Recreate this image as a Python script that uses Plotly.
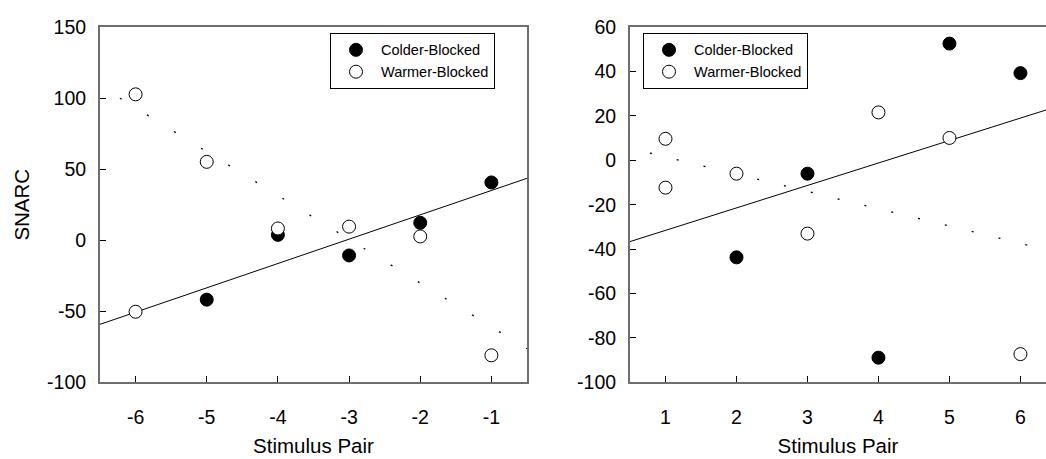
import plotly.graph_objects as go

# ---- data ----
left_colder_x = [-5, -4, -3, -2, -1]
left_colder_y = [-41.8, 3.8, -10.7, 12.3, 40.7]
left_warmer_x = [-6, -6, -5, -4, -3, -2, -1]
left_warmer_y = [102.7, -50.3, 55.2, 8.3, 9.6, 2.7, -81.0]
left_fit_x = [-6.5, -0.5]
left_fit_y = [-59.2, 43.6]
left_dot_x = [-6.22, -0.5]
left_dot_y = [100.0, -76.4]

right_colder_x = [2, 3, 4, 5, 6]
right_colder_y = [-43.7, -6.0, -88.9, 52.6, 39.3]
right_warmer_x = [1, 1, 2, 3, 4, 5, 6]
right_warmer_y = [9.7, -12.3, -6.0, -33.0, 21.6, 10.1, -87.3]
right_fit_x = [0.5, 6.5]
right_fit_y = [-36.6, 24.1]
right_dot_x = [0.78, 6.5]
right_dot_y = [3.3, -41.3]

left_xticks = [-6, -5, -4, -3, -2, -1]
left_xlabels = ["-6", "-5", "-4", "-3", "-2", "-1"]
left_yticks = [-100, -50, 0, 50, 100, 150]
left_ylabels = ["-100", "-50", "0", "50", "100", "150"]
right_xticks = [1, 2, 3, 4, 5, 6]
right_xlabels = ["1", "2", "3", "4", "5", "6"]
right_yticks = [-100, -80, -60, -40, -20, 0, 20, 40, 60]
right_ylabels = ["-100", "-80", "-60", "-40", "-20", "0", "20", "40", "60"]

FONT = "Arial, 'Liberation Sans', sans-serif"
AX = "#6e6e6e"

fig = go.Figure()

# left panel
fig.add_trace(go.Scatter(x=left_fit_x, y=left_fit_y, mode="lines",
                         line=dict(color="black", width=1), showlegend=False,
                         xaxis="x", yaxis="y"))
fig.add_trace(go.Scatter(x=left_dot_x, y=left_dot_y, mode="lines",
                         line=dict(color="black", width=1.3, dash="2px,29.8px"),
                         showlegend=False, xaxis="x", yaxis="y"))
fig.add_trace(go.Scatter(x=left_colder_x, y=left_colder_y, mode="markers",
                         name="Colder-Blocked",
                         marker=dict(symbol="circle", size=13, color="black",
                                     line=dict(color="black", width=1)),
                         xaxis="x", yaxis="y", legend="legend"))
fig.add_trace(go.Scatter(x=left_warmer_x, y=left_warmer_y, mode="markers",
                         name="Warmer-Blocked",
                         marker=dict(symbol="circle", size=13, color="white",
                                     line=dict(color="black", width=1)),
                         xaxis="x", yaxis="y", legend="legend"))

# right panel
fig.add_trace(go.Scatter(x=right_fit_x, y=right_fit_y, mode="lines",
                         line=dict(color="black", width=1), showlegend=False,
                         xaxis="x2", yaxis="y2"))
fig.add_trace(go.Scatter(x=right_dot_x, y=right_dot_y, mode="lines",
                         line=dict(color="black", width=1.3, dash="2px,25.6px"),
                         showlegend=False, xaxis="x2", yaxis="y2"))
fig.add_trace(go.Scatter(x=right_colder_x, y=right_colder_y, mode="markers",
                         name="Colder-Blocked",
                         marker=dict(symbol="circle", size=13, color="black",
                                     line=dict(color="black", width=1)),
                         xaxis="x2", yaxis="y2", legend="legend2"))
fig.add_trace(go.Scatter(x=right_warmer_x, y=right_warmer_y, mode="markers",
                         name="Warmer-Blocked",
                         marker=dict(symbol="circle", size=13, color="white",
                                     line=dict(color="black", width=1)),
                         xaxis="x2", yaxis="y2", legend="legend2"))

tickfont = dict(family=FONT, size=19.5, color="black")
titlefont = dict(family=FONT, size=20.5, color="black")

common_x = dict(showgrid=False, zeroline=False, showline=True, linecolor=AX,
                linewidth=2, ticks="inside", ticklen=6, tickcolor="black",
                tickwidth=1, tickfont=tickfont, ticklabelstandoff=16,
                tickmode="array")
common_y = dict(showgrid=False, zeroline=False, showline=True, linecolor=AX,
                linewidth=2, ticks="inside", ticklen=6, tickcolor="black",
                tickwidth=1, tickfont=tickfont, ticklabelstandoff=8,
                tickmode="array")

legend_common = dict(bgcolor="white", bordercolor="black", borderwidth=1,
                     font=dict(family=FONT, size=14.5, color="black"),
                     itemwidth=40, xanchor="left", yanchor="top",
                     tracegroupgap=0)

fig.update_layout(
    width=1046, height=459,
    margin=dict(l=0, r=0, t=0, b=0),
    paper_bgcolor="white", plot_bgcolor="white",
    xaxis=dict(common_x, domain=[0.0956, 0.5038], range=[-6.5, -0.5],
               tickvals=left_xticks, ticktext=left_xlabels, mirror=True, anchor="y",
               title=dict(text="Stimulus Pair", font=titlefont, standoff=12)),
    yaxis=dict(common_y, domain=[0.1503, 0.963], range=[-100, 150],
               tickvals=left_yticks, ticktext=left_ylabels, mirror=True, anchor="x",
               title=dict(text="SNARC", font=titlefont, standoff=12)),
    xaxis2=dict(common_x, domain=[0.6023, 1.0], range=[0.5, 6.36],
                tickvals=right_xticks, ticktext=right_xlabels, mirror=True, anchor="y2",
                title=dict(text="Stimulus Pair", font=titlefont, standoff=12)),
    yaxis2=dict(common_y, domain=[0.1503, 0.963], range=[-100, 60],
                tickvals=right_yticks, ticktext=right_ylabels, mirror=False, anchor="x2"),
    legend=dict(legend_common, x=330 / 1046, y=1 - 23 / 459),
    legend2=dict(legend_common, x=643 / 1046, y=1 - 23 / 459),
)

fig.write_html("out.html")
